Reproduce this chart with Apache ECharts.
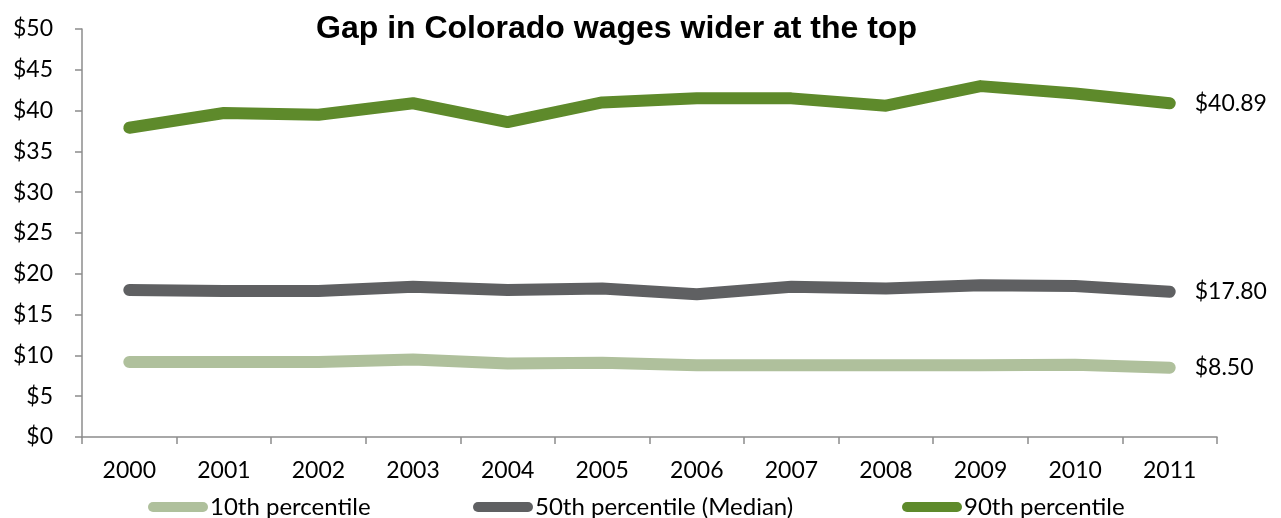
<!DOCTYPE html>
<html>
<head>
<meta charset="utf-8">
<script src="https://cdn.jsdelivr.net/npm/echarts@6/dist/echarts.min.js"></script>
<style>
  html, body { margin: 0; padding: 0; background: #ffffff; }
  #chart { width: 1281px; height: 518px; }
</style>
</head>
<body>
<div id="chart"></div>
<script>
// Hourly wages in Colorado by percentile, 2000–2011
const years = ['2000', '2001', '2002', '2003', '2004', '2005', '2006', '2007', '2008', '2009', '2010', '2011'];
const p10 = [9.2, 9.2, 9.2, 9.5, 9.0, 9.1, 8.8, 8.8, 8.8, 8.8, 8.85, 8.50];
const p50 = [18.0, 17.9, 17.9, 18.4, 18.0, 18.2, 17.5, 18.4, 18.2, 18.6, 18.5, 17.80];
const p90 = [37.9, 39.7, 39.5, 40.9, 38.6, 41.0, 41.5, 41.5, 40.6, 43.0, 42.1, 40.89];
const seriesNames = ['10th percentile', '50th percentile (Median)', '90th percentile'];
const colors = ['#afc09c', '#5f6062', '#5e8a2b'];
const yTicks = { min: 0, max: 50, step: 5 };

const FONT = 'Lato';
const TICK_SIZE = 23;
const pillIcon = 'path://M5 0H55A5 5 0 0 1 55 10H5A5 5 0 0 1 5 0Z';

function lineSeries(name, data, color) {
  return {
    name: name,
    type: 'line',
    data: data,
    symbol: 'none',
    color: color,
    lineStyle: { width: 12, color: color, cap: 'round', join: 'round' },
    // value of the final year printed at the line's right end
    endLabel: {
      show: true,
      distance: 25,
      formatter: p => '$' + Number(p.value).toFixed(2),
      fontFamily: FONT,
      fontSize: TICK_SIZE,
      color: '#000'
    },
    z: 3
  };
}

const chart = echarts.init(document.getElementById('chart'), null, { renderer: 'canvas' });

const legendLefts = [148, 473, 902];

chart.setOption({
  animation: false,
  backgroundColor: '#ffffff',
  title: {
    text: 'Gap in Colorado wages wider at the top',
    left: 311,
    top: 8,
    textStyle: {
      fontFamily: 'Liberation Sans',
      fontWeight: 'bold',
      fontSize: 32,
      color: '#000'
    }
  },
  legend: seriesNames.map((n, i) => ({
    data: [n],
    left: legendLefts[i],
    top: 495,
    icon: pillIcon,
    itemWidth: 60,
    itemHeight: 10,
    itemGap: 0,
    padding: 0,
    textStyle: { fontFamily: FONT, fontSize: 24, color: '#000', padding: [0, 0, 0, -3] }
  })),
  grid: { left: 82, right: 64, top: 29, bottom: 81, containLabel: false },
  xAxis: {
    type: 'category',
    data: years,
    boundaryGap: true,
    axisLine: { show: true, lineStyle: { color: '#8c8c8c', width: 1.5 } },
    axisTick: { show: true, length: 7, alignWithLabel: false, lineStyle: { color: '#8c8c8c', width: 1.5 } },
    axisLabel: { margin: 22, fontFamily: FONT, fontSize: TICK_SIZE, color: '#000' },
    splitLine: { show: false }
  },
  yAxis: {
    type: 'value',
    min: yTicks.min,
    max: yTicks.max,
    interval: yTicks.step,
    axisLine: { show: true, lineStyle: { color: '#8c8c8c', width: 1.5 } },
    axisTick: { show: true, length: 7, lineStyle: { color: '#8c8c8c', width: 1.5 } },
    axisLabel: { margin: 29, fontFamily: FONT, fontSize: TICK_SIZE, color: '#000', formatter: v => '$' + v },
    splitLine: { show: false }
  },
  series: [
    lineSeries(seriesNames[0], p10, colors[0]),
    lineSeries(seriesNames[1], p50, colors[1]),
    lineSeries(seriesNames[2], p90, colors[2])
  ]
});
</script>
</body>
</html>
